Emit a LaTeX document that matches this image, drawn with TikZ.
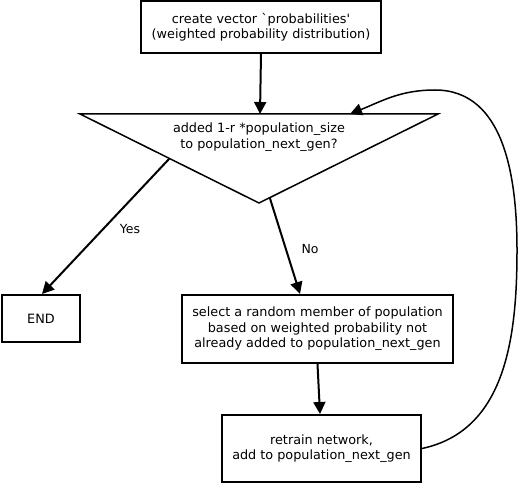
\documentclass[tikz,border=0pt]{standalone}
\usepackage{fontspec}
\setmainfont{DejaVu Sans}
\usetikzlibrary{arrows.meta,calc}

\begin{document}
\begin{tikzpicture}[x=1pt,y=-1pt,font=\fontsize{12.8}{15.5}\selectfont]
  \tikzstyle{lien}=[-{Triangle[length=12pt,width=12pt]},line width=2pt]
\tikzset{boite/.style={draw,line width=2pt,align=center,inner sep=0pt},
reponse/.style={font=\fontsize{12.5}{14}\selectfont}}
\useasboundingbox (0,0) rectangle (519,484);

\node[boite,minimum width=240pt,minimum height=52pt] (V) at (261,27){create vector \textasciigrave probabilities\textquotesingle\\(weighted probability distribution)};

% le triangle de decision
\coordinate (QL) at (80,114);
\coordinate (QR) at (438,114);
\coordinate (QB) at (259,203);
\draw[line width=1.5pt,line join=miter] (QL) -- (QR) -- (QB) -- cycle;
\node[align=center] (Q) at (259,137){added 1-r *population\_size\\to population\_next\_gen?};
\coordinate (QT) at (260,114);
\coordinate (QY) at ($(QL)!0.5!(QB)$);
\coordinate (QN) at ($(QB)!0.06!(QR)$);
\coordinate (QA) at (350,114);

\node[boite,minimum width=78pt,minimum height=47pt] (E) at (41,318.5){END};
\node[boite,minimum width=271pt,minimum height=68pt] (S) at (317.5,329){select a random member of population\\based on weighted probability not\\already added to population\_next\_gen};
\node[boite,minimum width=199pt,minimum height=67pt] (R) at (321.5,448.5){retrain network,\\add to population\_next\_gen};

\node[reponse] (oui) at (130,229){Yes};
\node[reponse] (non) at (310,249){No};

\coordinate (C1) at (517,250);
\coordinate (C2) at (435,90);

\draw[lien] (V.south) -- (QT);
\draw[lien] (QY) -- ([xshift=1pt]E.north);
\draw[lien] (QN) -- ([xshift=-17.5pt]S.north);
\draw[lien] (S.south) -- ([xshift=-1.5pt]R.north);
\draw[lien,line width=1.5pt] (R.east) to[out=12,in=270] (C1) to[out=90,in=0] (C2) to[out=180,in=22] (QA);

\end{tikzpicture}
\end{document}
